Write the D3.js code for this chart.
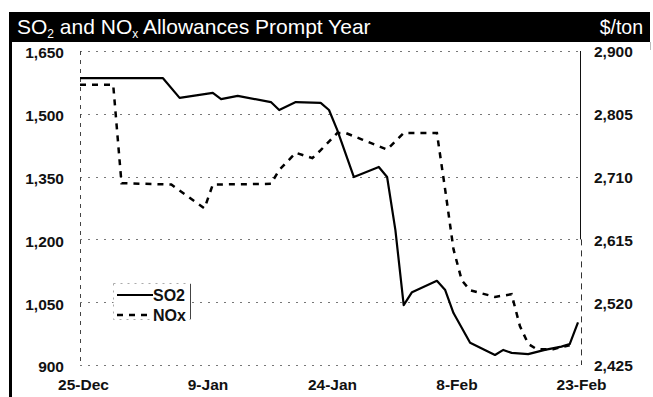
<!DOCTYPE html>
<html>
<head>
<meta charset="utf-8">
<script src="https://cdn.jsdelivr.net/npm/d3@7/dist/d3.min.js"></script>
<style>
  body { margin: 0; background: #fff; }
  text { font-family: "Liberation Sans", Arial, sans-serif; }
</style>
</head>
<body>
<div id="chart"></div>
<script>
    var width = 653,
        height = 397,
        left = 80,      // left axis
        right = 580,    // right axis
        plotTop = 51,
        plotBottom = 365;

    // SO2, $/ton, left axis
    var so2Dates = ["2004-12-25", "2005-01-04", "2005-01-06", "2005-01-10", "2005-01-11", "2005-01-13",
        "2005-01-17", "2005-01-18", "2005-01-20", "2005-01-23", "2005-01-24", "2005-01-25",
        "2005-01-27", "2005-01-30", "2005-01-31", "2005-02-01", "2005-02-02", "2005-02-03",
        "2005-02-06", "2005-02-07", "2005-02-08", "2005-02-10", "2005-02-13", "2005-02-14",
        "2005-02-15", "2005-02-17", "2005-02-19", "2005-02-21", "2005-02-22", "2005-02-23"];
    var so2Values = [1585, 1585, 1538, 1550, 1535, 1543,
        1528, 1509, 1528, 1526, 1509, 1461,
        1349, 1373, 1349, 1222, 1043, 1074,
        1101, 1079, 1024, 953, 924, 936,
        929, 926, 936, 944, 950, 1002];

    // NOx, $/ton, right axis
    var noxDates = ["2004-12-25", "2004-12-29", "2004-12-30", "2005-01-05", "2005-01-09", "2005-01-10",
        "2005-01-17", "2005-01-18", "2005-01-20", "2005-01-22", "2005-01-23", "2005-01-25",
        "2005-01-26", "2005-01-28", "2005-01-31", "2005-02-02", "2005-02-06", "2005-02-07",
        "2005-02-08", "2005-02-09", "2005-02-10", "2005-02-13", "2005-02-15", "2005-02-16",
        "2005-02-17", "2005-02-18", "2005-02-20", "2005-02-22"];
    var noxValues = [2849, 2849, 2700, 2698, 2662, 2698,
        2699, 2720, 2746, 2738, 2750, 2776,
        2776, 2766, 2751, 2776, 2776, 2690,
        2600, 2553, 2538, 2528, 2532, 2484,
        2457, 2449, 2449, 2455];

    var leftTicks = [900, 1050, 1200, 1350, 1500, 1650],
        rightTicks = [2425, 2520, 2615, 2710, 2805, 2900],
        xTicks = ["2004-12-25", "2005-01-09", "2005-01-24", "2005-02-08", "2005-02-23"],
        legendNames = ["SO2", "NOx"];

    var parse = d3.timeParse("%Y-%m-%d");

    var so2 = so2Dates.map(function (d, i) { return { date: parse(d), value: so2Values[i] }; }),
        nox = noxDates.map(function (d, i) { return { date: parse(d), value: noxValues[i] }; });

    var x = d3.scaleTime()
        .domain([parse("2004-12-25"), parse("2005-02-23")])
        .range([left, 578]);
    var yL = d3.scaleLinear().domain([900, 1650]).range([plotBottom, plotTop]);
    var yR = d3.scaleLinear().domain([2425, 2900]).range([plotBottom, plotTop]);

    var svg = d3.select("#chart").append("svg")
        .attr("width", width)
        .attr("height", height);

    // frame + title bar
    svg.append("rect")
        .attr("x", 9).attr("y", 12)
        .attr("width", 641).attr("height", 30)
        .attr("fill", "#000");
    svg.append("line")
        .attr("x1", 10.5).attr("x2", 10.5)
        .attr("y1", 12).attr("y2", height)
        .attr("stroke", "#000").attr("stroke-width", 3);
    svg.append("line")
        .attr("x1", 650.5).attr("x2", 650.5)
        .attr("y1", 42).attr("y2", 50)
        .attr("stroke", "#bbb");

    var title = svg.append("text")
        .attr("x", 17).attr("y", 34)
        .attr("fill", "#fff")
        .style("font-size", "21px");
    title.append("tspan").text("SO");
    title.append("tspan").attr("dy", 4).style("font-size", "12px").text("2");
    title.append("tspan").attr("dy", -4).text(" and NO");
    title.append("tspan").attr("dy", 4).style("font-size", "12px").text("x");
    title.append("tspan").attr("dy", -4).text(" Allowances Prompt Year");

    svg.append("text")
        .attr("x", 643).attr("y", 34)
        .attr("text-anchor", "end")
        .attr("fill", "#fff")
        .style("font-size", "19.5px")
        .text("$/ton");

    // gridlines
    svg.append("g").selectAll("line.grid")
        .data(leftTicks)
        .enter().append("line")
        .attr("class", "grid")
        .attr("x1", left).attr("x2", right)
        .attr("y1", function (d) { return Math.round(yL(d)) + 0.5; })
        .attr("y2", function (d) { return Math.round(yL(d)) + 0.5; })
        .attr("stroke", "#777")
        .attr("stroke-dasharray", "2,6");

    // axis lines
    svg.append("line")
        .attr("x1", left + 0.5).attr("x2", left + 0.5)
        .attr("y1", plotTop).attr("y2", plotBottom)
        .attr("stroke", "#444")
        .attr("stroke-dasharray", "4,5");
    svg.append("line")
        .attr("x1", right + 0.5).attr("x2", right + 0.5)
        .attr("y1", plotTop).attr("y2", yR(2615))
        .attr("stroke", "#111");
    svg.append("line")
        .attr("x1", right + 1.5).attr("x2", right + 1.5)
        .attr("y1", yR(2615)).attr("y2", plotBottom)
        .attr("stroke", "#333")
        .attr("stroke-dasharray", "6,5");

    // left axis labels
    var yAxisL = d3.axisLeft(yL)
        .tickValues(leftTicks)
        .tickFormat(d3.format(","))
        .tickSize(0)
        .tickPadding(16);
    var gl = svg.append("g")
        .attr("transform", "translate(" + left + ",2)")
        .call(yAxisL);
    gl.select(".domain").remove();
    gl.selectAll("text")
        .style("font-size", "15.5px")
        .style("font-weight", "bold")
        .attr("fill", "#111");

    // right axis labels
    var yAxisR = d3.axisRight(yR)
        .tickValues(rightTicks)
        .tickFormat(d3.format(","))
        .tickSize(0)
        .tickPadding(14);
    var gr = svg.append("g")
        .attr("transform", "translate(" + right + ",1)")
        .call(yAxisR);
    gr.select(".domain").remove();
    gr.selectAll("text")
        .style("font-size", "15.5px")
        .style("font-weight", "bold")
        .attr("fill", "#111");

    // date labels
    var xAxis = d3.axisBottom(x)
        .tickValues(xTicks.map(parse))
        .tickFormat(d3.timeFormat("%-d-%b"))
        .tickSize(0)
        .tickPadding(0);
    var gx = svg.append("g")
        .attr("transform", "translate(3," + 379 + ")")
        .call(xAxis);
    gx.select(".domain").remove();
    gx.selectAll("text")
        .style("font-size", "15.5px")
        .style("font-weight", "bold")
        .attr("fill", "#111");

    // series
    var so2Line = d3.line()
        .x(function (d) { return x(d.date); })
        .y(function (d) { return yL(d.value); });
    var noxLine = d3.line()
        .x(function (d) { return x(d.date); })
        .y(function (d) { return yR(d.value); });

    svg.append("path")
        .datum(nox)
        .attr("d", noxLine)
        .attr("fill", "none")
        .attr("stroke", "#000")
        .attr("stroke-width", 2.5)
        .attr("stroke-dasharray", "6,6");

    svg.append("path")
        .datum(so2)
        .attr("d", so2Line)
        .attr("fill", "none")
        .attr("stroke", "#000")
        .attr("stroke-width", 2.2)
        .attr("stroke-linejoin", "round");

    // legend
    var legend = svg.append("g").attr("transform", "translate(113,283)");
    legend.append("rect")
        .attr("x", 0.5).attr("y", 0.5)
        .attr("width", 77).attr("height", 36)
        .attr("fill", "#fff")
        .attr("stroke", "#aaa")
        .attr("stroke-dasharray", "2,5");
    legend.append("line")
        .attr("x1", 77.5).attr("x2", 77.5)
        .attr("y1", 1).attr("y2", 36)
        .attr("stroke", "#444");
    var item = legend.selectAll("g.item")
        .data(legendNames)
        .enter().append("g")
        .attr("class", "item")
        .attr("transform", function (d, i) { return "translate(0," + (12 + i * 20) + ")"; });
    item.append("line")
        .attr("x1", 4).attr("x2", 40)
        .attr("stroke", "#000")
        .attr("stroke-width", function (d, i) { return i ? 2.5 : 2; })
        .attr("stroke-dasharray", function (d, i) { return i ? "6,6" : null; });
    item.append("text")
        .attr("x", 40).attr("y", 6)
        .style("font-size", "16px")
        .style("font-weight", "bold")
        .attr("fill", "#111")
        .text(function (d) { return d; });
</script>
</body>
</html>
